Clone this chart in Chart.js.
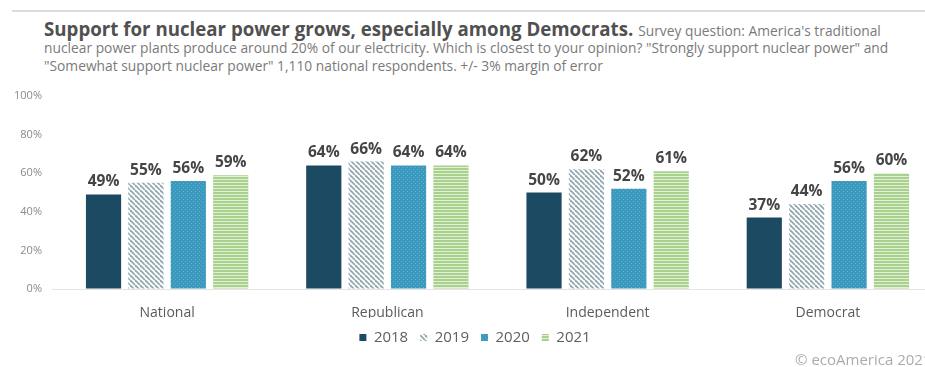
<!DOCTYPE html>
<html>
<head>
<meta charset="utf-8">
<script src="https://cdn.jsdelivr.net/npm/chart.js@4/dist/chart.umd.min.js"></script>
<style>
  html, body { margin:0; padding:0; background:#fff; overflow:hidden; width:925px; height:367px; }
  #wrap { position:absolute; left:0; top:0; width:945px; height:367px; }
  .rule { position:absolute; left:12px; top:10px; width:913px; height:2px; background:#dcdcdc; }
  .t { position:absolute; left:44px; font-family:"Open Sans", sans-serif; white-space:nowrap; color:#7a7a7a; }
  .t1 { top:19px; font-size:18.7px; line-height:20px; font-weight:700; color:#505050; }
  .t1 span { font-size:13.8px; font-weight:400; color:#7a7a7a; }
  .t2 { top:38px; font-size:13.8px; line-height:20px; }
  .t3 { top:56px; font-size:13.8px; line-height:20px; }
  .copy { position:absolute; left:795px; top:350px; font-family:"Open Sans", sans-serif; font-size:15px; line-height:18px; color:#ababab; white-space:nowrap; }
</style>
</head>
<body>
<div class="rule"></div>
<div class="t t1">Support for nuclear power grows, especially among Democrats. <span>Survey question: America's traditional</span></div>
<div class="t t2">nuclear power plants produce around 20% of our electricity. Which is closest to your opinion? "Strongly support nuclear power" and</div>
<div class="t t3">"Somewhat support nuclear power" 1,110 national respondents. +/- 3% margin of error</div>
<div id="wrap"><canvas id="c"></canvas></div>
<div class="copy">© ecoAmerica 2021</div>
<script>
const categories = ['National', 'Republican', 'Independent', 'Democrat'];
const years = ['2018', '2019', '2020', '2021'];
const v2018 = [49, 64, 50, 37];
const v2019 = [55, 66, 62, 44];
const v2020 = [56, 64, 52, 56];
const v2021 = [59, 64, 61, 60];
const yTickValues = [0, 20, 40, 60, 80, 100];

function makePattern(w, h, draw) {
  const c = document.createElement('canvas');
  c.width = w; c.height = h;
  const x = c.getContext('2d');
  draw(x, w, h);
  return x.createPattern(c, 'repeat');
}
const solid2018 = '#1d4a63';
const hatch2019 = makePattern(5, 5, (x, w, h) => {
  x.fillStyle = '#ffffff'; x.fillRect(0, 0, w, h);
  x.strokeStyle = '#93a9b2'; x.lineWidth = 1.8;
  for (let o = -w; o <= w; o += w) {
    x.beginPath(); x.moveTo(o, 0); x.lineTo(o + w, h); x.stroke();
  }
});
const dots2020 = makePattern(4, 4, (x, w, h) => {
  x.fillStyle = '#3b99be'; x.fillRect(0, 0, w, h);
  x.fillStyle = '#5aaed0'; x.fillRect(1, 1, 1, 1); x.fillRect(3, 3, 1, 1);
});
const lines2021 = makePattern(4, 3, (x, w, h) => {
  x.fillStyle = '#a9d18e'; x.fillRect(0, 0, w, h);
  x.fillStyle = '#e2f1d6'; x.fillRect(0, 2, w, 1);
});

const valueLabels = {
  id: 'valueLabels',
  afterDatasetsDraw(chart) {
    const ctx = chart.ctx;
    ctx.save();
    ctx.font = '700 15.5px "Open Sans"';
    ctx.fillStyle = '#454545';
    ctx.textAlign = 'center';
    ctx.textBaseline = 'alphabetic';
    chart.data.datasets.forEach((ds, i) => {
      chart.getDatasetMeta(i).data.forEach((bar, j) => {
        ctx.fillText(ds.data[j] + '%', bar.x, bar.y - 8);
      });
    });
    ctx.restore();
  }
};

new Chart(document.getElementById('c'), {
  type: 'bar',
  data: {
    labels: categories,
    datasets: [
      { label: years[0], data: v2018, backgroundColor: solid2018 },
      { label: years[1], data: v2019, backgroundColor: hatch2019 },
      { label: years[2], data: v2020, backgroundColor: dots2020 },
      { label: years[3], data: v2021, backgroundColor: lines2021 }
    ]
  },
  options: {
    responsive: true,
    maintainAspectRatio: false,
    animation: false,
    categoryPercentage: 0.77,
    barPercentage: 0.83,
    layout: { padding: { top: 96, left: 12, right: 7, bottom: 19 } },
    plugins: {
      legend: {
        position: 'bottom',
        maxHeight: 30,
        labels: {
          boxWidth: 7, boxHeight: 7, padding: 12,
          color: '#606060',
          font: { family: '"Open Sans"', size: 15 }
        }
      },
      tooltip: { enabled: false }
    },
    scales: {
      x: {
        afterFit(s) { s.height = 29; },
        grid: { display: false, drawTicks: false },
        border: { display: false },
        ticks: { color: '#5a5a5a', padding: 14, font: { family: '"Open Sans"', size: 14, lineHeight: 1.4 } }
      },
      y: {
        min: 0, max: 100,
        afterBuildTicks(s) { s.ticks = yTickValues.map(v => ({ value: v })); },
        afterFit(s) { s.width = 45; },
        border: { display: false },
        grid: {
          color: c => c.tick && c.tick.value === 0 ? '#e4e4e4' : 'rgba(0,0,0,0)',
          tickColor: c => c.tick && c.tick.value === 0 ? '#e4e4e4' : 'rgba(0,0,0,0)',
          tickLength: 5
        },
        ticks: {
          color: '#8a8a8a', padding: 10,
          font: { family: '"Open Sans"', size: 11 },
          callback: v => v + '%'
        }
      }
    }
  },
  plugins: [valueLabels]
});
</script>
</body>
</html>
